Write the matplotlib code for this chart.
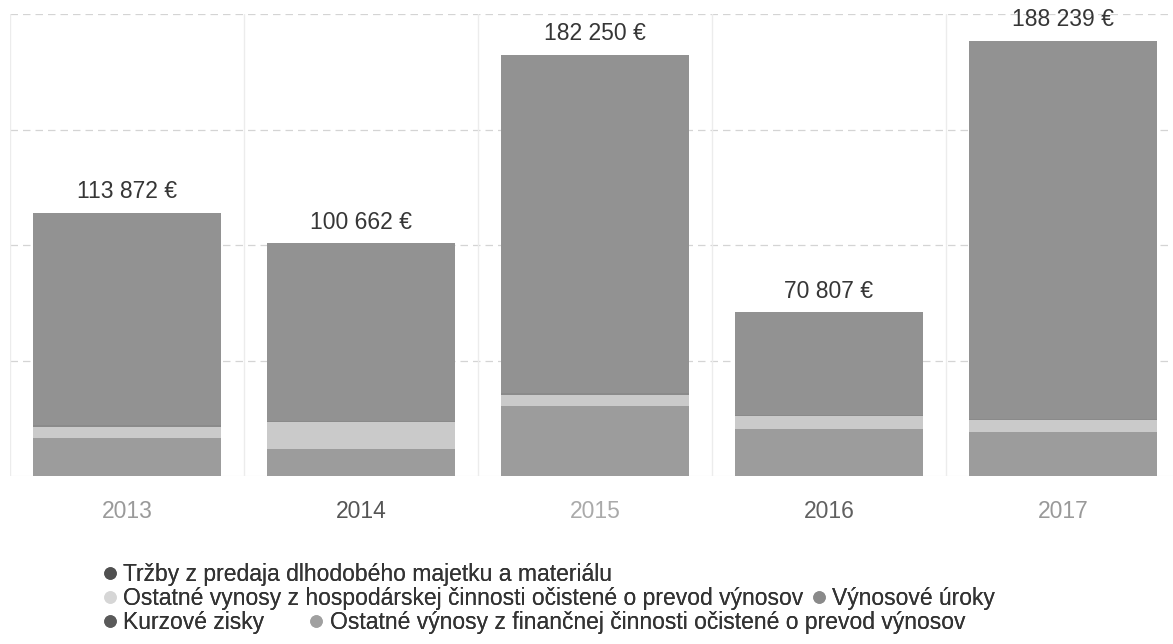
import matplotlib
matplotlib.use('Agg')
import matplotlib.pyplot as plt
from matplotlib.lines import Line2D

# %% data
YEARS = ['2013', '2014', '2015', '2016', '2017']
TOTAL_LABELS = ['113 872 €', '100 662 €', '182 250 €', '70 807 €', '188 239 €']
SERIES_NAMES = [
    'Tržby z predaja dlhodobého majetku a materiálu',
    'Ostatné vynosy z hospodárskej činnosti očistené o prevod výnosov',
    'Výnosové úroky',
    'Kurzové zisky',
    'Ostatné výnosy z finančnej činnosti očistené o prevod výnosov',
]
trzby = [16500, 11750, 30450, 20450, 19150]
ostatne_hosp = [4800, 11750, 4800, 5650, 5200]
vynosove_uroky = [600, 400, 500, 500, 400]
kurzove_zisky = [0, 0, 0, 0, 0]
ostatne_fin = [91972, 76762, 146500, 44207, 163489]
totals = [113872, 100662, 182250, 70807, 188239]

# %% style
plt.rcParams['font.family'] = ['Liberation Sans', 'DejaVu Sans']
BAR_COLORS = ['#9c9c9c', '#cacaca', '#8a8a8a', '#7a7a7a', '#929292']
DOT_COLORS = ['#505050', '#d6d6d6', '#8a8a8a', '#5a5a5a', '#a0a0a0']
YEAR_COLORS = ['#9a9a9a', '#555555', '#aaaaaa', '#606060', '#999999']

W, H = 1173, 644
fig = plt.figure(figsize=(W / 100, H / 100), dpi=100)
ax = fig.add_axes([10 / W, (H - 476) / H, 1170 / W, 462 / H])

x = list(range(len(YEARS)))
bottom = [0] * len(YEARS)
for vals, col in zip([trzby, ostatne_hosp, vynosove_uroky, kurzove_zisky,
                      ostatne_fin], BAR_COLORS):
    ax.bar(x, vals, width=0.8, bottom=bottom, color=col, linewidth=0,
           zorder=3)
    bottom = [b + v for b, v in zip(bottom, vals)]

for xi, tot, lab in zip(x, totals, TOTAL_LABELS):
    ax.annotate(lab, (xi, tot), xytext=(0, 7), textcoords='offset points',
                ha='center', va='bottom', fontsize=16.5, color='#363636')

ax.set_xlim(-0.5, 4.5)
ax.set_ylim(0, 200000)
for y in [50000, 100000, 150000, 200000]:
    ax.axhline(y, color='#d4d4d4', lw=0.9, ls=(0, (6, 4)), zorder=1)
ax.axhline(0, color='#e4e4e4', lw=0.8, zorder=1)
for xv in [-0.5, 0.5, 1.5, 2.5, 3.5]:
    ax.axvline(xv, color='#ececec', lw=1.0, zorder=1)

for s in ax.spines.values():
    s.set_visible(False)
ax.set_yticks([])
ax.set_xticks(x)
ax.set_xticklabels(YEARS, fontsize=16.5)
for t, c in zip(ax.get_xticklabels(), YEAR_COLORS):
    t.set_color(c)
ax.tick_params(axis='x', length=0, pad=17)

# %% legend, wrapped in three rows
def dot(c):
    return Line2D([], [], ls='', marker='o', markersize=8, color=c)

rows = [([0], 0.5), ([1, 2], 0.4), ([3, 4], 2.0)]
row_y = [575, 599, 623]
for (idx, cs), yy in zip(rows, row_y):
    leg = fig.legend([dot(DOT_COLORS[i]) for i in idx],
                     [SERIES_NAMES[i] for i in idx],
                     loc='center left', bbox_to_anchor=(104 / W, 1 - yy / H),
                     ncol=len(idx), frameon=False, fontsize=16.5,
                     handlelength=0.5, handletextpad=0.35, columnspacing=cs,
                     borderpad=0, borderaxespad=0, labelcolor='#333333')
    fig.add_artist(leg)

fig.savefig('out.png', dpi=100, facecolor='white')
